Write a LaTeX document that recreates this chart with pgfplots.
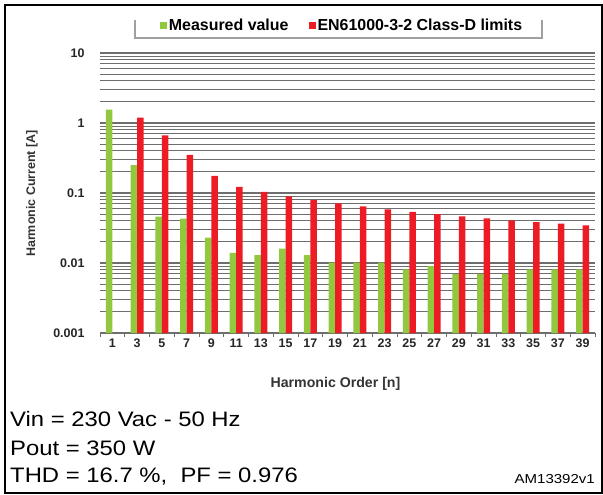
\documentclass[border=0pt]{standalone}
\usepackage{graphicx}
\usepackage{pgfplots}
\pgfplotsset{compat=1.18}
\usepackage{fontspec}
\setmainfont{Liberation Sans}

\definecolor{measgreen}{RGB}{146,200,62}
\definecolor{limred}{RGB}{237,28,36}
\definecolor{gridgray}{RGB}{110,110,110}
\definecolor{boxgray}{RGB}{160,160,160}

\pgfplotsset{sqlegend/.style={legend image code/.code={\path[##1,draw=none] (0bp,-3.5bp) rectangle (7bp,3.5bp);}}}

% harmonic order index (0 = 1st, 1 = 3rd, ...) and current in A
\pgfplotstableread{
idx val
0  1.55
1  0.25
2  0.046
3  0.043
4  0.023
5  0.014
6  0.013
7  0.016
8  0.013
9  0.0101
10 0.0101
11 0.0101
12 0.0081
13 0.0090
14 0.0070
15 0.0070
16 0.0070
17 0.0081
18 0.0081
19 0.0081
}\measured
\pgfplotstableread{
idx val
1  1.19
2  0.665
3  0.35
4  0.175
5  0.1225
6  0.104
7  0.0898
8  0.0793
9  0.0709
10 0.0642
11 0.0586
12 0.0539
13 0.0499
14 0.0465
15 0.0435
16 0.0408
17 0.0385
18 0.0364
19 0.0346
}\limits

\begin{document}
\begin{tikzpicture}[x=1bp,y=1bp]
\useasboundingbox (0,0) rectangle (603,-495);
\draw[line width=2bp] (5,-5) rectangle (601.5,-492.5);

% legend frame (top side hidden, as in the source)
\draw[boxgray, line width=1.2bp] (135,-20) -- (135,-38) -- (542,-38) -- (542,-20);

\begin{axis}[
  at={(100bp,-333bp)}, anchor=south west,
  width=495bp, height=280bp, scale only axis,
  ymode=log, log origin=infty,
  ymin=0.001, ymax=10,
  xmin=-0.5, xmax=19.5,
  ybar=0pt, bar width=0.26,
  axis x line*=bottom, axis y line*=left,
  y axis line style={draw=none},
  x axis line style={gridgray, line width=1bp},
  tick align=outside,
  major tick length=0bp, minor tick length=4bp,
  ytick style={draw=none},
  xtick style={gridgray, line width=0.8bp},
  xtick={0,...,19},
  xticklabels={1,3,5,7,9,11,13,15,17,19,21,23,25,27,29,31,33,35,37,39},
  minor xtick={-0.5,0.5,...,19.5},
  ytick={0.001,0.01,0.1,1,10},
  yticklabels={0.001,0.01,0.1,1,10},
  minor ytick={0.002,0.003,0.004,0.005,0.006,0.007,0.008,0.009,
               0.02,0.03,0.04,0.05,0.06,0.07,0.08,0.09,
               0.2,0.3,0.4,0.5,0.6,0.7,0.8,0.9,
               2,3,4,5,6,7,8,9},
  ymajorgrids, yminorgrids,
  major grid style={gridgray, line width=1.1bp},
  minor grid style={gridgray, line width=1.1bp},
  xticklabel style={font=\bfseries\fontsize{12.5}{14}\selectfont, text=black!85, anchor=base, yshift=-14bp},
  yticklabel style={font=\bfseries\fontsize{12.5}{14}\selectfont, text=black!85, anchor=east, xshift=-12bp},
  legend style={at={(0.489,1.098)}, anchor=center, legend columns=2,
    draw=none, fill=none, inner sep=0pt,
    font=\bfseries\fontsize{16}{18}\selectfont,
    /tikz/every even column/.append style={column sep=18bp}},
]
\addplot[fill=measgreen, draw=none, sqlegend]
  table[x=idx, y=val] {\measured};
\addlegendentry{Measured value}
\addplot[fill=limred, draw=none, sqlegend]
  table[x=idx, y=val] {\limits};
\addlegendentry{EN61000-3-2 Class-D limits}
\end{axis}

\node[rotate=90, font=\bfseries\fontsize{12.5}{15}\selectfont, text=black!80] at (32,-193.5) {Harmonic Current [A]};
\node[font=\bfseries\fontsize{14.2}{16}\selectfont, text=black!80] at (335.5,-384) {Harmonic Order [n]};

\node[anchor=base west, inner sep=0pt, font=\fontsize{21}{24}\selectfont] at (10,-426.7) {\scalebox{1.14}[1]{Vin = 230 Vac - 50 Hz}};
\node[anchor=base west, inner sep=0pt, font=\fontsize{21}{24}\selectfont] at (10,-455) {\scalebox{1.14}[1]{Pout = 350 W}};
\node[anchor=base west, inner sep=0pt, font=\fontsize{21}{24}\selectfont] at (10,-482.7) {\scalebox{1.14}[1]{THD = 16.7 \%,\ \ PF = 0.976}};
\node[anchor=base east, inner sep=0pt, font=\fontsize{13}{15}\selectfont] at (595,-483) {\scalebox{1.16}[1]{AM13392v1}};
\end{tikzpicture}
\end{document}
